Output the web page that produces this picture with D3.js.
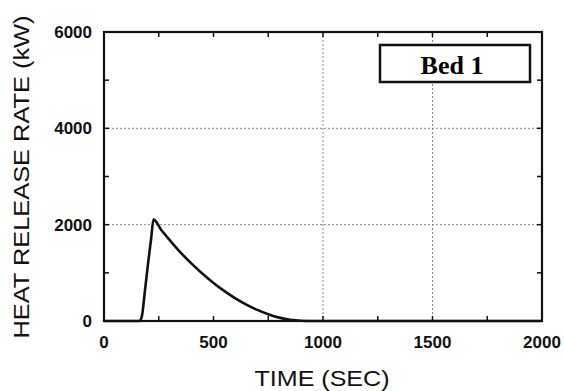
<!DOCTYPE html>
<html lang="en">
<head>
  <meta charset="UTF-8">
  <title>Bed 1 Heat Release Rate</title>
  <script src="https://d3js.org/d3.v7.min.js"></script>
</head>
<style>
  body { margin: 0; background: #fff; }
  .tick-label { font-family: "Liberation Sans", Arial, sans-serif; font-size: 17px; font-weight: bold; fill: #111; }
  .axis-title { font-family: "Liberation Sans", Arial, sans-serif; font-size: 22px; fill: #111; }
  .grid { stroke: #888; stroke-width: 1px; stroke-dasharray: 2,2; }
</style>
<body>
<svg id="chart" width="564" height="391"></svg>

<script>
  // values
  const timeSec = [0, 160, 168, 175, 185, 200, 215, 226, 260, 300, 350, 400, 450, 500, 550, 600, 650, 700, 750, 800, 850, 900, 950, 1000, 2000];
  const hrrKw   = [0, 0, 30, 150, 550, 1150, 1700, 2110, 1900, 1680, 1420, 1190, 980, 790, 620, 470, 340, 230, 140, 70, 25, 5, 0, 0, 0];
  const xTicks = [0, 500, 1000, 1500, 2000];
  const yTicks = [0, 2000, 4000, 6000];
  const xGrid = [1000, 1500];
  const yGrid = [2000, 4000];
  const legendLabel = "Bed 1";

  const svg = d3.select("#chart");
  const plotL = 104, plotR = 542, plotT = 32, plotB = 321;

  const x = d3.scaleLinear().domain([0, 2000]).range([plotL, plotR]);
  const y = d3.scaleLinear().domain([0, 6000]).range([plotB, plotT]);

  // grid lines
  svg.append("g").selectAll("line").data(xGrid).join("line")
    .attr("class", "grid")
    .attr("x1", d => x(d)).attr("x2", d => x(d))
    .attr("y1", plotT).attr("y2", plotB);
  svg.append("g").selectAll("line").data(yGrid).join("line")
    .attr("class", "grid")
    .attr("x1", plotL).attr("x2", plotR)
    .attr("y1", d => y(d)).attr("y2", d => y(d));

  // inward ticks on all four sides (major + minor)
  const xAll = d3.range(0, 2001, 250);
  const yAll = d3.range(0, 6001, 1000);
  const tickG = svg.append("g").attr("stroke", "#111").attr("stroke-width", 1.5);
  const len = 5;
  xAll.forEach(v => {
    tickG.append("line").attr("x1", x(v)).attr("x2", x(v)).attr("y1", plotB).attr("y2", plotB - len);
    tickG.append("line").attr("x1", x(v)).attr("x2", x(v)).attr("y1", plotT).attr("y2", plotT + len);
  });
  yAll.forEach(v => {
    tickG.append("line").attr("y1", y(v)).attr("y2", y(v)).attr("x1", plotL).attr("x2", plotL + len);
    tickG.append("line").attr("y1", y(v)).attr("y2", y(v)).attr("x1", plotR).attr("x2", plotR - len);
  });

  // frame
  svg.append("rect")
    .attr("x", plotL).attr("y", plotT)
    .attr("width", plotR - plotL).attr("height", plotB - plotT)
    .attr("fill", "none").attr("stroke", "#111").attr("stroke-width", 2.2);

  // tick labels
  svg.append("g").selectAll("text").data(xTicks).join("text")
    .attr("class", "tick-label")
    .attr("x", d => x(d)).attr("y", 348)
    .attr("text-anchor", "middle")
    .text(d => d);
  svg.append("g").selectAll("text").data(yTicks).join("text")
    .attr("class", "tick-label")
    .attr("x", 92).attr("y", d => y(d) + 6)
    .attr("text-anchor", "end")
    .text(d => d);

  // axis titles
  svg.append("text")
    .attr("class", "axis-title")
    .attr("x", 322).attr("y", 386)
    .attr("text-anchor", "middle")
    .attr("textLength", 135).attr("lengthAdjust", "spacingAndGlyphs")
    .text("TIME (SEC)");
  svg.append("text")
    .attr("class", "axis-title")
    .attr("transform", "translate(29,177) rotate(-90)")
    .attr("text-anchor", "middle")
    .attr("textLength", 323).attr("lengthAdjust", "spacingAndGlyphs")
    .text("HEAT RELEASE RATE (kW)");

  // the curve
  const line = d3.line()
    .x((d, i) => x(timeSec[i]))
    .y(d => y(d))
    .curve(d3.curveMonotoneX);
  svg.append("path")
    .datum(hrrKw)
    .attr("d", line)
    .attr("fill", "none")
    .attr("stroke", "#111")
    .attr("stroke-width", 2.6);

  // legend box
  svg.append("rect")
    .attr("x", 380).attr("y", 45).attr("width", 150).attr("height", 37)
    .attr("fill", "#fff").attr("stroke", "#111").attr("stroke-width", 2.5);
  svg.append("text")
    .attr("x", 452).attr("y", 74)
    .attr("text-anchor", "middle")
    .style("font-family", "'Liberation Serif', 'Times New Roman', serif")
    .style("font-size", "26px").style("font-weight", "bold")
    .text(legendLabel);
</script>
</body>
</html>
